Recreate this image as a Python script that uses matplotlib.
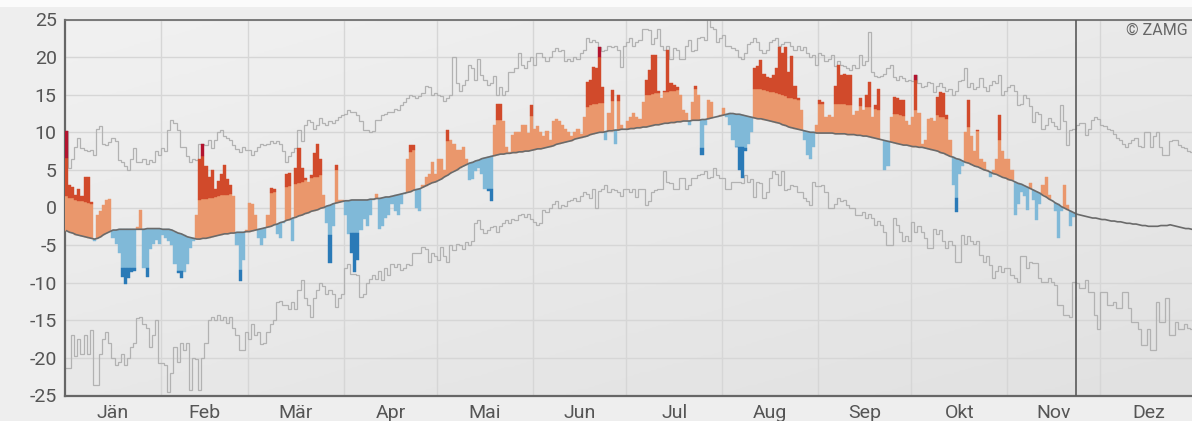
import numpy as np
import matplotlib
matplotlib.use("Agg")
import matplotlib.pyplot as plt
from matplotlib.colors import LinearSegmentedColormap
from matplotlib.patches import Rectangle

plt.rcParams['font.family'] = ['Roboto', 'DejaVu Sans']

months = ["Jän", "Feb", "Mär", "Apr", "Mai", "Jun", "Jul", "Aug", "Sep", "Okt", "Nov", "Dez"]
month_days = [31, 28, 31, 30, 31, 30, 31, 31, 30, 31, 30, 31]

# daily mean temperature, climate normal (°C)
clim_mean = [
	-3.1, -3.3, -3.4, -3.6, -3.7, -3.8, -3.9, -4.0, -4.1, -4.2, -4.1, -3.9, -3.6, -3.4, -3.2, -3.0, -3.0, -2.9, -2.9, -2.9, -2.9, -2.9, -2.9, -2.9, -2.9, -2.9, -2.8, -2.8, -2.8, -2.8, -2.8,
	-2.9, -2.9, -2.9, -3.0, -3.2, -3.4, -3.5, -3.7, -3.9, -4.0, -4.1, -4.2, -4.2, -4.1, -4.1, -4.0, -3.9, -3.8, -3.7, -3.6, -3.5, -3.5, -3.4, -3.4, -3.3, -3.3, -3.3, -3.2,
	-3.2, -3.1, -3.0, -2.9, -2.8, -2.7, -2.6, -2.5, -2.3, -2.2, -2.0, -1.9, -1.7, -1.6, -1.4, -1.3, -1.1, -1.0, -0.8, -0.7, -0.5, -0.4, -0.3, -0.1, 0.0, 0.2, 0.3, 0.5, 0.6, 0.7, 0.8,
	0.9, 0.9, 1.0, 1.0, 1.0, 1.0, 1.0, 1.0, 1.1, 1.1, 1.2, 1.2, 1.3, 1.4, 1.4, 1.5, 1.6, 1.7, 1.8, 1.9, 2.0, 2.1, 2.3, 2.4, 2.5, 2.7, 2.9, 3.1, 3.3, 3.4,
	3.6, 3.8, 4.1, 4.3, 4.6, 4.8, 5.0, 5.3, 5.5, 5.7, 5.9, 6.0, 6.2, 6.3, 6.5, 6.6, 6.7, 6.8, 6.9, 7.0, 7.1, 7.1, 7.2, 7.2, 7.3, 7.3, 7.4, 7.4, 7.5, 7.5, 7.6,
	7.7, 7.8, 7.8, 7.9, 8.0, 8.1, 8.2, 8.4, 8.5, 8.6, 8.7, 8.8, 8.9, 9.1, 9.2, 9.3, 9.4, 9.5, 9.7, 9.8, 9.9, 10.0, 10.0, 10.1, 10.2, 10.2, 10.3, 10.3, 10.4, 10.4,
	10.4, 10.5, 10.5, 10.6, 10.6, 10.7, 10.7, 10.8, 10.9, 11.0, 11.0, 11.1, 11.2, 11.2, 11.3, 11.3, 11.4, 11.4, 11.5, 11.5, 11.5, 11.6, 11.6, 11.6, 11.7, 11.7, 11.8, 11.9, 12.0, 12.1, 12.2,
	12.3, 12.4, 12.5, 12.5, 12.4, 12.4, 12.3, 12.2, 12.1, 12.0, 11.9, 11.8, 11.8, 11.7, 11.6, 11.5, 11.4, 11.3, 11.2, 11.0, 10.9, 10.7, 10.6, 10.5, 10.4, 10.3, 10.2, 10.1, 10.0, 10.0, 9.9,
	9.9, 9.9, 9.9, 9.9, 9.9, 9.8, 9.8, 9.8, 9.8, 9.7, 9.7, 9.7, 9.6, 9.6, 9.5, 9.5, 9.4, 9.3, 9.2, 9.1, 9.0, 8.9, 8.8, 8.7, 8.6, 8.5, 8.4, 8.3, 8.3, 8.2,
	8.1, 8.1, 8.0, 8.0, 7.9, 7.8, 7.7, 7.6, 7.5, 7.3, 7.2, 7.0, 6.8, 6.7, 6.5, 6.4, 6.2, 6.0, 5.9, 5.7, 5.5, 5.4, 5.2, 5.0, 4.9, 4.7, 4.5, 4.4, 4.2, 4.0, 3.9,
	3.7, 3.6, 3.4, 3.2, 3.1, 2.9, 2.7, 2.5, 2.3, 2.1, 1.9, 1.6, 1.4, 1.1, 0.9, 0.6, 0.4, 0.1, -0.1, -0.3, -0.5, -0.7, -0.9, -1.0, -1.1, -1.2, -1.3, -1.4, -1.4, -1.5,
	-1.6, -1.6, -1.7, -1.8, -1.8, -1.9, -1.9, -2.0, -2.1, -2.1, -2.2, -2.2, -2.3, -2.4, -2.4, -2.5, -2.5, -2.5, -2.5, -2.4, -2.4, -2.4, -2.3, -2.4, -2.5, -2.6, -2.7, -2.8, -2.8, -2.9, -3.0,
]

# highest daily mean on record (°C)
clim_max = [
	10.2, 5.2, 6.5, 8.0, 9.2, 7.9, 7.6, 7.5, 7.6, 7.0, 10.5, 10.8, 8.5, 8.3, 8.7, 9.2, 8.8, 6.3, 6.0, 5.5, 5.0, 6.5, 7.9, 6.1, 6.0, 6.5, 5.8, 6.3, 6.0, 7.5, 7.0,
	7.9, 7.5, 10.3, 11.6, 11.2, 10.3, 8.1, 8.0, 6.8, 6.1, 6.5, 6.3, 8.5, 8.5, 8.3, 9.0, 7.9, 9.0, 10.1, 10.3, 9.5, 9.2, 9.0, 8.3, 7.8, 7.4, 8.0, 7.6,
	7.6, 7.0, 7.5, 8.0, 8.5, 8.3, 8.5, 8.8, 8.6, 8.8, 8.4, 7.5, 6.1, 6.8, 7.4, 7.9, 10.3, 8.8, 11.0, 11.6, 11.4, 10.5, 11.0, 11.9, 11.3, 11.0, 11.5, 11.2, 11.6, 12.0, 12.3,
	12.5, 13.0, 12.7, 12.7, 12.3, 11.5, 10.3, 10.3, 10.1, 10.2, 11.6, 11.6, 12.3, 12.5, 12.7, 12.7, 13.1, 13.0, 13.6, 14.0, 14.5, 15.0, 14.8, 14.5, 14.8, 15.2, 16.1, 16.0, 15.0, 15.2,
	15.0, 14.8, 14.2, 14.5, 15.0, 20.0, 16.5, 15.5, 16.3, 17.0, 19.0, 18.5, 17.0, 19.8, 17.6, 17.0, 16.3, 16.5, 17.5, 15.0, 16.0, 15.0, 15.5, 18.0, 18.0, 18.5, 20.5, 19.0, 18.5, 19.5, 20.0,
	19.0, 20.5, 20.5, 20.0, 19.5, 20.0, 20.8, 21.2, 20.8, 21.0, 19.5, 19.8, 19.5, 20.0, 19.8, 20.5, 21.0, 22.5, 22.0, 22.3, 22.0, 21.4, 20.8, 21.0, 21.5, 21.3, 21.5, 21.0, 18.7, 21.5,
	22.0, 22.5, 21.5, 22.0, 22.3, 23.8, 23.8, 23.6, 21.7, 22.5, 23.8, 21.5, 21.0, 21.5, 19.8, 21.2, 21.0, 19.7, 19.8, 21.5, 22.3, 20.8, 21.0, 22.5, 22.7, 22.3, 25.1, 24.0, 23.8, 22.0, 22.5,
	23.0, 21.5, 21.5, 21.2, 21.0, 20.0, 19.8, 20.5, 21.8, 22.0, 22.5, 22.0, 21.0, 20.5, 21.0, 22.0, 22.3, 22.5, 21.5, 21.8, 22.0, 22.0, 21.5, 21.0, 21.5, 21.0, 21.3, 20.5, 20.0, 20.3, 19.0,
	20.5, 20.3, 19.5, 19.8, 20.3, 18.8, 19.5, 19.0, 18.8, 18.6, 18.3, 19.0, 18.5, 20.3, 19.0, 19.5, 23.4, 18.0, 17.5, 17.3, 17.5, 17.8, 18.5, 19.0, 17.3, 17.0, 17.5, 17.2, 16.8, 17.0,
	16.8, 17.6, 16.5, 16.0, 16.2, 16.7, 16.5, 15.4, 16.2, 16.5, 16.0, 15.5, 15.8, 15.0, 15.5, 16.8, 17.0, 18.5, 16.0, 16.5, 15.8, 16.0, 17.2, 16.0, 15.5, 16.3, 16.8, 16.5, 17.6, 15.0, 15.5,
	16.0, 16.3, 15.5, 13.6, 13.8, 15.0, 14.5, 13.5, 11.4, 12.7, 12.5, 10.5, 11.0, 11.9, 11.4, 10.8, 10.5, 13.6, 11.5, 8.3, 10.3, 10.5, 11.0, 11.2, 11.3, 9.6, 10.5, 11.6, 12.0, 11.8,
	11.0, 10.8, 10.5, 10.3, 9.8, 9.2, 9.0, 8.5, 8.0, 8.6, 9.0, 9.2, 8.2, 8.0, 10.0, 10.1, 8.0, 9.5, 10.0, 8.0, 7.0, 7.0, 8.8, 9.0, 9.0, 8.3, 8.0, 7.9, 7.5, 7.4, 7.2,
]

# lowest daily mean on record (°C)
clim_min = [
	-21.4, -21.4, -17.0, -19.8, -17.5, -19.5, -17.0, -19.5, -16.3, -23.6, -23.6, -19.5, -17.5, -16.5, -18.0, -20.0, -21.0, -20.5, -19.5, -21.0, -20.0, -18.5, -18.0, -14.7, -14.5, -15.5, -16.0, -18.5, -17.0, -15.0, -20.7,
	-20.7, -21.0, -24.5, -22.0, -18.5, -20.5, -18.0, -19.0, -18.0, -24.3, -20.0, -20.2, -24.3, -20.0, -18.0, -15.0, -14.5, -15.0, -14.3, -15.0, -14.5, -15.3, -14.5, -16.0, -17.0, -19.0, -19.0, -16.5,
	-17.5, -15.5, -17.0, -16.5, -18.2, -18.0, -16.5, -15.5, -15.0, -12.5, -12.4, -13.0, -13.0, -13.5, -12.5, -13.5, -11.0, -9.6, -12.0, -13.0, -14.5, -12.0, -11.0, -10.0, -10.5, -11.5, -11.0, -11.5, -13.2, -12.0, -11.5,
	-8.0, -7.5, -8.8, -8.8, -9.0, -11.9, -11.5, -10.0, -9.5, -9.0, -9.5, -8.5, -9.6, -8.0, -9.0, -7.5, -7.9, -7.5, -8.3, -8.0, -7.5, -7.6, -6.0, -6.1, -6.0, -5.2, -5.5, -7.2, -6.0, -6.5,
	-7.0, -5.2, -6.5, -7.2, -5.0, -5.6, -4.8, -5.0, -5.5, -4.6, -5.0, -4.5, -2.0, -1.7, -2.8, -3.4, -3.0, -2.6, -2.5, -3.2, -2.4, -2.0, -1.6, -2.1, -1.5, -1.7, -1.0, -0.9, -1.3, -0.9, -1.5,
	-1.9, -2.3, -2.0, -0.3, -0.6, -0.1, 0.5, 0.8, -0.1, 0.3, 0.2, 0.8, 1.0, 1.2, 0.8, 1.5, 2.1, 1.8, 1.2, 2.5, -0.1, 2.2, 2.5, 3.0, 2.1, 2.5, 2.3, 2.0, 1.5, 2.5,
	2.5, 2.0, 2.5, 1.4, 2.5, 2.5, 0.3, 0.8, 2.1, 2.3, 2.5, 2.5, 4.8, 3.4, 3.2, 2.5, 2.5, 3.9, 3.9, 2.5, 3.0, 3.9, 3.9, 4.3, 4.5, 4.8, 3.9, 4.0, 5.2, 4.3, 3.9,
	3.9, 2.5, 2.5, 3.4, 3.4, 3.4, 3.2, 4.3, 3.4, 3.8, 1.4, 3.4, 3.2, 1.2, 2.0, 3.9, 4.8, 4.5, 3.0, 4.8, 2.3, 2.5, 3.0, 2.8, 2.1, 2.0, 1.2, 0.8, 0.3, 3.4, 2.8,
	2.8, 3.0, 2.1, -0.1, -0.1, 0.5, 1.2, 0.8, 1.0, 0.3, -0.1, 0.0, -1.0, -1.0, -0.6, -1.4, -0.8, -1.4, -2.3, -1.8, -2.3, -3.2, -5.0, -5.0, -1.4, -2.3, -3.2, -4.5, -3.8, -4.5,
	-1.9, -3.2, -2.5, -3.2, -4.0, -5.4, -5.4, -2.8, -3.5, -3.0, -4.5, -5.4, -4.5, -5.0, -7.2, -7.2, -3.6, -4.9, -3.8, -4.5, -4.9, -4.5, -6.3, -7.2, -6.5, -7.6, -9.4, -8.5, -7.8, -8.6, -8.0,
	-8.0, -9.0, -9.4, -9.9, -6.5, -6.5, -8.1, -7.2, -7.4, -7.4, -9.4, -9.9, -9.9, -9.4, -9.9, -10.3, -13.0, -13.0, -14.3, -14.3, -14.5, -9.9, -10.0, -10.7, -10.7, -9.6, -11.2, -11.2, -14.3, -16.1,
	-11.2, -11.2, -13.0, -13.0, -12.5, -13.4, -13.4, -11.2, -11.2, -13.4, -15.2, -15.2, -16.1, -18.3, -18.3, -16.1, -19.0, -19.0, -12.5, -15.2, -15.2, -12.1, -17.0, -17.0, -15.2, -16.1, -16.1, -15.5, -16.0, -16.1, -16.1,
]

# observed daily mean temperature this year (°C)
obs_temp = [
	10.2, 3.0, 2.7, 1.7, 2.5, 1.5, 4.1, 4.1, 0.7, -4.5, -1.0, -0.5, 0.3, 1.0, 1.1, -4.0, -4.8, -6.0, -9.3, -10.2, -9.4, -8.6, -8.4, -2.6, -0.3, -8.0, -9.3, -5.5, -4.9, -4.3, -4.8,
	-3.6, -4.0, -4.5, -5.0, -7.5, -8.7, -9.4, -8.6, -7.5, -5.4, -4.5, -1.0, 6.5, 8.5, 5.5, 4.0, 5.0, 2.5, 3.5, 4.5, 5.6, 3.8, 3.0, 1.5, -5.0, -9.8, -7.0, -3.0,
	0.6, 0.5, -1.0, -4.0, -5.0, -4.0, -1.0, 2.6, 2.4, -3.5, -4.1, -2.0, 4.5, 4.6, -4.5, 5.3, 7.9, 5.3, 3.9, 3.4, 4.3, 7.2, 8.5, 6.5, 1.7, -2.0, -7.4, -2.5, 5.6, 1.0, 1.0,
	-1.0, -3.5, -6.0, -8.6, -7.0, -3.0, -1.5, -2.5, -1.0, 1.0, 1.8, -2.8, -2.5, -1.4, -1.0, 0.5, -0.5, -1.0, 0.5, 1.8, 6.5, 8.3, 8.3, 0.0, -0.5, 3.0, 4.0, 4.5, 6.1, 4.5,
	6.5, 6.5, 5.0, 10.3, 9.0, 8.5, 7.6, 7.6, 8.1, 6.5, 3.6, 3.8, 4.8, 5.2, 4.5, 2.5, 2.2, 0.8, 11.0, 13.7, 13.7, 11.5, 8.0, 7.4, 9.6, 10.0, 10.1, 11.0, 11.0, 9.9, 13.6,
	10.5, 10.8, 10.0, 9.5, 10.2, 9.0, 11.5, 11.8, 11.5, 11.0, 10.5, 10.0, 9.5, 10.0, 10.5, 9.8, 12.0, 16.7, 17.0, 18.7, 18.5, 21.4, 16.0, 9.0, 12.5, 15.6, 8.5, 15.0, 11.0, 10.5,
	11.5, 12.0, 12.5, 12.0, 11.8, 14.0, 16.9, 18.3, 20.3, 20.3, 15.5, 14.5, 15.5, 20.9, 16.5, 16.3, 16.0, 15.0, 13.0, 12.5, 11.0, 14.0, 16.1, 15.0, 7.0, 11.0, 14.3, 14.0, 12.0, 12.0, 12.3,
	13.2, 12.0, 11.0, 9.0, 8.0, 5.0, 3.9, 7.5, 8.5, 10.0, 18.5, 18.8, 19.6, 17.8, 17.4, 17.2, 17.6, 18.5, 21.4, 20.5, 21.4, 18.0, 20.1, 16.1, 14.5, 13.0, 9.0, 7.0, 6.5, 8.0, 11.0,
	14.3, 14.0, 12.0, 12.3, 12.0, 16.1, 19.0, 17.6, 17.8, 17.6, 17.6, 12.3, 12.8, 14.5, 13.0, 15.0, 16.7, 12.0, 13.6, 15.8, 9.0, 5.0, 5.5, 12.0, 14.7, 14.5, 14.3, 14.3, 11.5, 11.0,
	12.0, 17.6, 12.5, 8.5, 9.0, 11.8, 11.9, 11.5, 14.7, 15.4, 15.2, 12.3, 9.0, 3.0, -0.6, 4.5, 5.5, 10.0, 14.3, 9.5, 7.5, 10.3, 6.5, 6.0, 5.0, 4.0, 5.0, 6.5, 12.3, 7.5, 6.5,
	6.5, 5.0, -1.0, 0.5, 2.0, 1.5, -0.3, 3.2, 1.0, -1.7, 0.5, 3.0, 4.1, 1.7, 0.8, -0.5, -4.1, -0.5, 3.0, 0.3, -2.5, -1.2,
]

# days that set a new record: day index -> previous record (°C)
prev_record = {0: 6.6, 44: 6.8, 172: 20.0, 274: 17.0}

# width of the "normal" band above / below the mean, per month (°C)
warm_band = [4.6, 5.2, 4.4, 5.3, 4.6, 3.9, 4.2, 3.9, 3.9, 4.8, 4.5, 4.5]
cold_band = [5.2, 5.0, 4.0, 4.4, 4.3, 4.0, 3.8, 4.3, 4.8, 5.2, 5.2, 5.2]

today = 326

warm_light = '#ea976c'
warm_dark = '#d14a2b'
record_col = '#b3132e'
cold_light = '#80b9d8'
cold_dark = '#2a7ab7'


def bar_parts():
	"""Split each observed day into stacked (bottom, top) pieces per colour."""
	n = len(obs_temp)
	mean = np.array(clim_mean)[:n]
	t = np.array(obs_temp)
	month_of_day = np.repeat(np.arange(12), month_days)[:n]
	up = mean + np.array(warm_band)[month_of_day]
	dn = mean - np.array(cold_band)[month_of_day]

	rec = np.full(n, np.inf)
	for d, prev in prev_record.items():
		rec[d] = prev

	parts = []
	# warm side
	parts.append((mean, np.minimum(t, up), warm_light))
	parts.append((up, np.minimum(t, rec), warm_dark))
	parts.append((np.where(np.isinf(rec), t, rec), t, record_col))
	# cold side
	parts.append((np.maximum(t, dn), mean, cold_light))
	parts.append((t, dn, cold_dark))
	return parts


def draw(ax):
	n_days = len(clim_mean)
	edges = np.arange(n_days + 1)
	x_end = 363.55

	# soft grey backdrop
	g = np.linspace(0, 1, 200)
	gx, gy = np.meshgrid(g, g)
	cmap = LinearSegmentedColormap.from_list('bg', ['#f1f1f1', '#e1e1e1'])
	ax.imshow(0.45 * gx + 0.55 * gy, cmap=cmap, vmin=0, vmax=1, origin='upper',
		extent=(0, x_end, -25, 25), aspect='auto', zorder=0)

	# record lines
	ax.stairs(clim_max, edges, baseline=None, color='#b2b2b2', lw=0.9, zorder=2)
	ax.stairs(clim_min, edges, baseline=None, color='#b2b2b2', lw=0.9, zorder=2)

	days = np.arange(len(obs_temp))
	for bottom, top, col in bar_parts():
		keep = top > bottom
		ax.bar(days[keep], (top - bottom)[keep], bottom=bottom[keep], width=1.0,
			align='edge', color=col, edgecolor=col, linewidth=0.3, zorder=3)

	ax.plot(np.arange(n_days) + 0.5, clim_mean, color='#6a6a6a', lw=1.2, zorder=4)
	ax.axvline(today, color='#5a5a5a', lw=1.2, zorder=5)

	starts = np.concatenate([[0], np.cumsum(month_days)])
	centers = (starts[:-1] + starts[1:]) / 2.0
	ax.set_xticks(starts[1:-1], minor=True)
	ax.set_xticks(centers)
	ax.set_xticklabels(months)
	ax.set_yticks(np.arange(-25, 26, 5))
	ax.set_yticklabels([str(v) for v in range(-25, 26, 5)])
	ax.grid(True, which='minor', axis='x', color='#d6d6d6', lw=1.0, zorder=1)
	ax.grid(True, which='major', axis='y', color='#d6d6d6', lw=1.0, zorder=1)
	ax.set_axisbelow(True)
	ax.tick_params(axis='both', which='both', length=0, labelsize=14, colors='#555555')
	ax.tick_params(axis='y', pad=6)
	ax.tick_params(axis='x', pad=6)
	ax.set_xlim(0, x_end)
	ax.set_ylim(-25, 25)

	for side in ('left', 'bottom'):
		ax.spines[side].set_color('#666666')
		ax.spines[side].set_linewidth(1.6)
	ax.spines['top'].set_color('#707070')
	ax.spines['top'].set_linewidth(1.3)
	ax.spines['right'].set_visible(False)


def main():
	fig = plt.figure(figsize=(11.92, 4.21), dpi=100, facecolor='#eeeeee')
	fig.patches.append(Rectangle((0, 1 - 7 / 421.0), 1, 7 / 421.0, transform=fig.transFigure,
		facecolor='#fbfbfb', edgecolor='none', zorder=0))
	ax = fig.add_axes([65 / 1192.0, 25.5 / 421.0, 1 - 65 / 1192.0, 376 / 421.0])
	draw(ax)
	fig.text(1188 / 1192.0, 1 - 30 / 421.0, '© ZAMG', ha='right', va='center',
		fontsize=11.5, color='#666666')
	fig.savefig('out.png', dpi=100, facecolor=fig.get_facecolor())


if __name__ == '__main__':
	main()
